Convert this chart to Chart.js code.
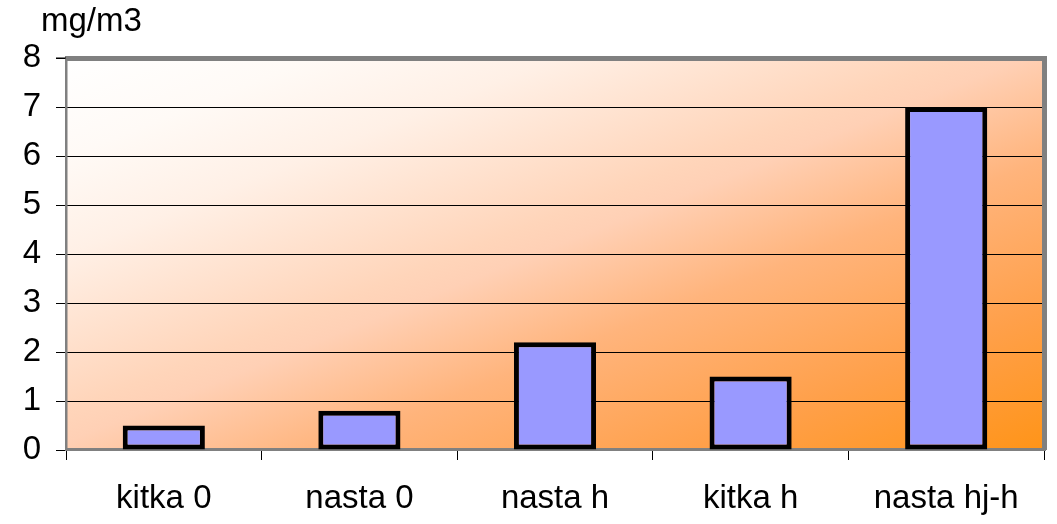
<!DOCTYPE html>
<html>
<head>
<meta charset="utf-8">
<script src="https://cdn.jsdelivr.net/npm/chart.js@4"></script>
<style>
  html, body { margin: 0; padding: 0; background: #ffffff; }
  #wrap { position: relative; width: 1057px; height: 524px; }
  #unit { position: absolute; left: 41px; top: 3px; font-family: "Liberation Sans", Arial, sans-serif; font-size: 33px; line-height: 33px; color: #000; }
</style>
</head>
<body>
<div id="wrap">
  <canvas id="c" width="1057" height="524"></canvas>
  <div id="unit">mg/m3</div>
</div>
<script>
const categories = ["kitka 0", "nasta 0", "nasta h", "kitka h", "nasta hj-h"];
const values = [0.5, 0.8, 2.2, 1.5, 7.0];
const yTicks = [0, 1, 2, 3, 4, 5, 6, 7, 8];

const FONT = '"Liberation Sans", Arial, sans-serif';

const bgPlugin = {
  id: 'bgPlugin',
  beforeDraw(chart) {
    const { ctx, chartArea: a } = chart;
    ctx.save();
    ctx.translate(a.left, a.top);
    ctx.scale(a.right - a.left, a.bottom - a.top);
    const grad = ctx.createLinearGradient(0, 0, 1, 1);
    grad.addColorStop(0, '#FFFFFF');
    grad.addColorStop(0.127, '#FFFAF6');
    grad.addColorStop(0.25, '#FFF0E6');
    grad.addColorStop(0.45, '#FFD5BA');
    grad.addColorStop(0.49, '#FFD0B5');
    grad.addColorStop(0.63, '#FFB47C');
    grad.addColorStop(0.82, '#FFA04A');
    grad.addColorStop(1, '#FF9418');
    ctx.fillStyle = grad;
    ctx.fillRect(0, 0, 1, 1);
    ctx.restore();
  },
  beforeDatasetsDraw(chart) {
    const { ctx, chartArea: a } = chart;
    ctx.save();
    ctx.fillStyle = '#808080';
    ctx.fillRect(a.left - 1, a.top - 2, a.right - a.left + 3, 5);
    ctx.fillRect(a.right - 2, a.top - 2, 5, a.bottom - a.top + 2);
    ctx.fillRect(a.left - 1, a.top - 2, 2.5, a.bottom - a.top + 3);
    ctx.fillRect(a.left - 1, a.bottom - 2, a.right - a.left + 3, 3);
    ctx.fillStyle = '#000';
    ctx.fillRect(a.left - 10, a.top - 0.5, 10, 1);
    ctx.restore();
  }
};

new Chart(document.getElementById('c'), {
  type: 'bar',
  data: {
    labels: categories,
    datasets: [{
      data: values,
      backgroundColor: '#9999FF',
      borderColor: '#000000',
      borderWidth: 5,
      borderSkipped: false,
      barPercentage: 0.42,
      categoryPercentage: 1.0
    }]
  },
  options: {
    responsive: false,
    animation: false,
    layout: { padding: { top: 58, right: 13, bottom: 0, left: 0 } },
    plugins: { legend: { display: false }, tooltip: { enabled: false }, title: { display: false } },
    scales: {
      x: {
        afterFit(scale) { scale.height = 74; },
        grid: { display: true, drawOnChartArea: false, drawTicks: true, tickLength: 10, color: '#000', offset: true },
        border: { display: false },
        ticks: { font: { family: FONT, size: 33 }, color: '#000', padding: 19, maxRotation: 0 }
      },
      y: {
        min: 0, max: 8,
        afterFit(scale) { scale.width = 66; },
        afterBuildTicks(scale) { scale.ticks = yTicks.map(v => ({ value: v })); },
        grid: { color: '#000', lineWidth: 1, drawTicks: true, tickLength: 10 },
        border: { display: false },
        ticks: { font: { family: FONT, size: 33 }, color: '#000', padding: 15 }
      }
    }
  },
  plugins: [bgPlugin]
});
</script>
</body>
</html>
